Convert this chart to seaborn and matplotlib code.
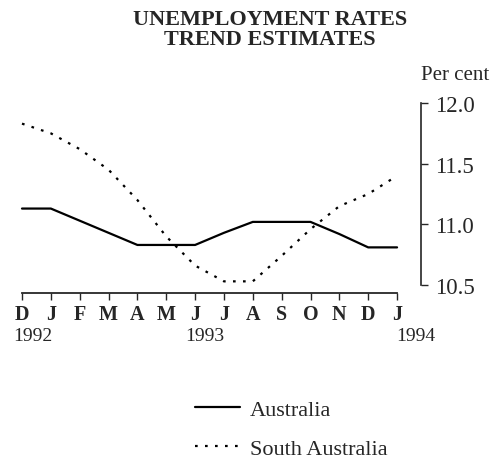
import numpy as np
import pandas as pd
import matplotlib
matplotlib.use("Agg")
import matplotlib.pyplot as plt
import seaborn as sns

# data, monthly Dec 1992 .. Jan 1994
months = ["D", "J", "F", "M", "A", "M", "J", "J", "A", "S", "O", "N", "D", "J"]
australia = [11.13, 11.13, 11.03, 10.93, 10.83, 10.83, 10.83, 10.93, 11.02, 11.02, 11.02, 10.92, 10.81, 10.81]
south_australia = [11.83, 11.75, 11.62, 11.45, 11.20, 10.90, 10.66, 10.53, 10.53, 10.74, 10.96, 11.15, 11.25, 11.40]
years = ["1992", "1993", "1994"]
year_pos = [0, 6, 13]
yticks = [10.5, 11.0, 11.5, 12.0]

df = pd.DataFrame({"idx": np.arange(len(months)), "Australia": australia, "South Australia": south_australia})

sns.set_style("ticks")
plt.rcParams["font.family"] = ["Liberation Serif", "DejaVu Serif"]

fig = plt.figure(figsize=(4.95, 4.64), dpi=100)
ax = fig.add_axes([22/495, 170/464, 399/495, 190/464])

sns.lineplot(data=df, x="idx", y="Australia", ax=ax, color="black", linewidth=1.6, label="Australia", clip_on=False)
sns.lineplot(data=df, x="idx", y="South Australia", ax=ax, color="black", linewidth=1.6,
             linestyle=(0, (1.2, 3.3)), label="South Australia", clip_on=False)

ax.set_xlim(0, 13.83)
ax.set_ylim(10.434, 12.0)
ax.set_xlabel("")
ax.set_ylabel("")

# spines: bottom axis and right axis only
ax.spines["top"].set_visible(False)
ax.spines["left"].set_visible(False)
ax.spines["bottom"].set_bounds(0, 13)
ax.spines["right"].set_bounds(10.5, 12.0)
ax.spines["bottom"].set_linewidth(1.3)
ax.spines["right"].set_linewidth(1.2)

ax.set_xticks(range(len(months)))
ax.set_xticklabels(months, fontsize=14.5, fontweight="bold")
ax.tick_params(axis="x", direction="out", length=5, width=1, pad=3)

ax.yaxis.tick_right()
ax.set_yticks(yticks)
ax.set_yticklabels([f"{v:.1f}" for v in yticks], fontsize=16.5)
ax.tick_params(axis="y", direction="out", length=5, width=1, pad=5)

offsets = [-6, -7, -0.5]
for yr, p, off in zip(years, year_pos, offsets):
    ax.annotate(yr, xy=(p, 10.434), xycoords="data", xytext=(off, -34),
                textcoords="offset points", ha="left", va="baseline", fontsize=14, annotation_clip=False)

ax.text(1.0, 1.10, "Per cent", transform=ax.transAxes, ha="left", va="bottom", fontsize=15)

fig.text(0.545, 1 - 30/464, "UNEMPLOYMENT RATES\nTREND ESTIMATES", ha="center", va="center",
         fontsize=16, fontweight="bold", linespacing=0.95)

ax.get_legend().remove()
handles, labels = ax.get_legend_handles_labels()
fig.legend(handles, labels, loc="upper left", bbox_to_anchor=(184/495, 1 - 389/464), frameon=False,
           fontsize=16, handlelength=2.0, handletextpad=0.45, labelspacing=0.85, borderpad=0)

fig.savefig("out.png", dpi=100)
